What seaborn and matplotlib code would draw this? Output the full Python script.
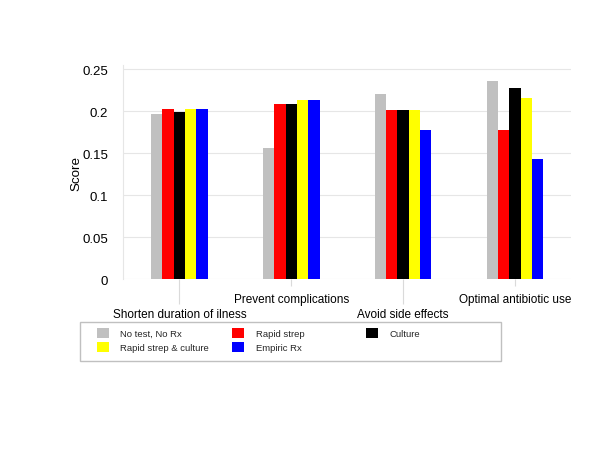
import matplotlib
matplotlib.use("Agg")
import matplotlib.pyplot as plt
from matplotlib.patches import Patch, Rectangle
import pandas as pd
import seaborn as sns

criteria = ["Shorten duration of ilness", "Prevent complications",
            "Avoid side effects", "Optimal antibiotic use"]
strategies = ["No test, No Rx", "Rapid strep", "Culture",
              "Rapid strep & culture", "Empiric Rx"]
colors = ["#c0c0c0", "#ff0000", "#000000", "#ffff00", "#0000ff"]

no_test = [0.196, 0.156, 0.220, 0.236]
rapid_strep = [0.202, 0.209, 0.201, 0.177]
culture = [0.199, 0.209, 0.201, 0.228]
rapid_culture = [0.203, 0.213, 0.201, 0.215]
empiric = [0.202, 0.213, 0.178, 0.143]

y_ticks = [0, 0.05, 0.1, 0.15, 0.2, 0.25]
y_tick_labels = ["0", "0.05", "0.1", "0.15", "0.2", "0.25"]

rows = []
for strat, vals in zip(strategies, [no_test, rapid_strep, culture, rapid_culture, empiric]):
    for crit, v in zip(criteria, vals):
        rows.append({"criterion": crit, "strategy": strat, "score": v})
df = pd.DataFrame(rows)

sns.set_theme(style="whitegrid")
plt.rcParams["font.family"] = ["Liberation Sans", "DejaVu Sans"]

fig = plt.figure(figsize=(6, 4.64), dpi=100)
ax = fig.add_axes([0.2058, 0.3955, 0.7458, 0.4627])

sns.barplot(
    data=df, x="criterion", y="score", hue="strategy",
    order=criteria, hue_order=strategies, palette=colors,
    saturation=1, width=0.506, errorbar=None, linewidth=0,
    legend=False, ax=ax
)

ax.set_xlim(-0.5, 3.5)
ax.set_ylim(0, 0.255)

# staggered category labels: long ticks for 1st/3rd, short for 2nd/4th
ax.set_xticks([0, 2], [criteria[0], criteria[2]])
ax.set_xticks([1, 3], [criteria[1], criteria[3]], minor=True)
ax.tick_params(axis="x", which="major", bottom=True, length=18, width=0.8,
               pad=2.7, labelsize=8.5, color="#dadada", labelcolor="black")
ax.tick_params(axis="x", which="minor", bottom=True, length=5, width=0.8,
               pad=5, labelsize=8.5, color="#dadada", labelcolor="black")
ax.set_xlabel("")

ax.set_yticks(y_ticks, y_tick_labels)
ax.tick_params(axis="y", length=0, pad=11, labelsize=9.5, labelcolor="black")
ax.set_ylabel("Score", fontsize=9.6, color="black")
ax.yaxis.set_label_coords(-0.0927, 0.5)

ax.xaxis.grid(False)
ax.yaxis.grid(True, color="#e6e6e6", linewidth=0.8)
for side in ["top", "right", "bottom"]:
    ax.spines[side].set_visible(False)
ax.spines["left"].set_color("#e6e6e6")
ax.spines["left"].set_linewidth(0.8)

# legend: three equal-width columns inside one grey frame
legend_cols = [[0, 3], [1, 4], [2]]
col_x = [96.7, 231.7, 366.0]
for idxs, x in zip(legend_cols, col_x):
    handles = [Patch(facecolor=colors[i], edgecolor="none", label=strategies[i]) for i in idxs]
    fig.legend(
        handles=handles, loc="upper left",
        bbox_to_anchor=(x / 600, 1 - 329 / 464),
        frameon=False, fontsize=6.8, borderpad=0, borderaxespad=0,
        handlelength=1.27, handleheight=1.27, handletextpad=1.25,
        labelspacing=0.35
    )
fig.add_artist(Rectangle(
    (79.5 / 600, 1 - 361.5 / 464), (500.7 - 79.5) / 600, (361.5 - 323.2) / 464,
    transform=fig.transFigure, fill=False, edgecolor="#c0c0c0", linewidth=1
))

fig.savefig("out.png", dpi=100)
